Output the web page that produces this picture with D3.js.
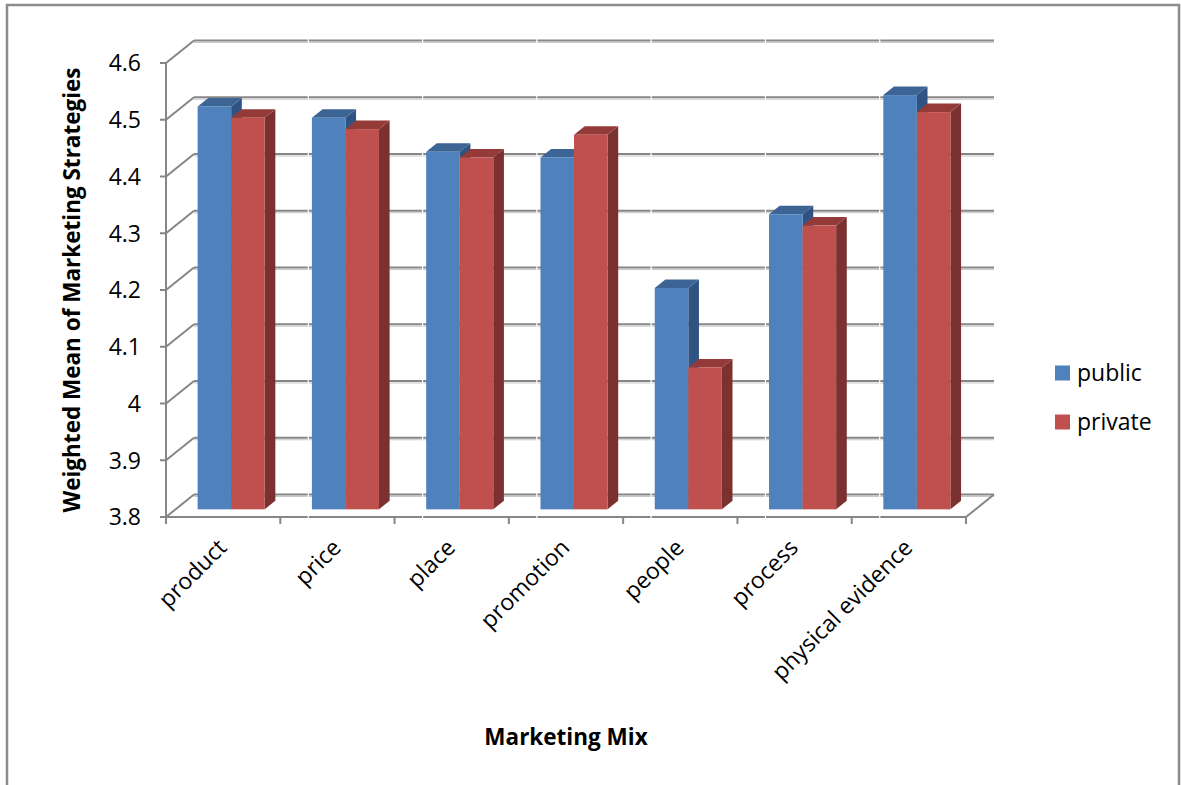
<!DOCTYPE html>
<html>
<head>
<meta charset="utf-8">
<script src="https://cdn.jsdelivr.net/npm/d3@7/dist/d3.min.js"></script>
<style>
  html, body { margin: 0; padding: 0; background: #fff; }
  svg { display: block; }
  text { font-family: "Open Sans", Lato, sans-serif; fill: #000; }
</style>
</head>
<body>
<script>
const categories = ["product", "price", "place", "promotion", "people", "process", "physical evidence"];
const seriesNames = ["public", "private"];
const publicValues = [4.51, 4.49, 4.43, 4.42, 4.19, 4.32, 4.53];
const privateValues = [4.49, 4.47, 4.42, 4.46, 4.05, 4.30, 4.50];
const yTicks = [3.8, 3.9, 4.0, 4.1, 4.2, 4.3, 4.4, 4.5, 4.6];
const yTickLabels = ["3.8", "3.9", "4", "4.1", "4.2", "4.3", "4.4", "4.5", "4.6"];

const W = 1181, H = 785;
const svg = d3.select("body").append("svg").attr("width", W).attr("height", H);

const colors = {
  public: { front: "#4F81BD", top: "#3C6494", side: "#2F5382" },
  private: { front: "#C0504D", top: "#943B39", side: "#7A312F" }
};

// border
svg.append("rect").attr("x", 7).attr("y", 5).attr("width", 1172).attr("height", 800)
  .attr("fill", "none").attr("stroke", "#8c8c8c").attr("stroke-width", 2.5);

const left = 166, right = 966;
const DX = 28, DY = -22.5; // full depth offset
const y = d3.scaleLinear().domain([3.8, 4.6]).range([517, 63]);
const x = d3.scaleBand().domain(categories).range([left, right]).paddingInner(0).paddingOuter(0);
const bw = x.bandwidth();
const clusterW = bw * 0.587;
const xs = d3.scaleBand().domain(seriesNames).range([0, clusterW]);
const f0 = 0.34, f1 = 0.72;

const grid = svg.append("g");
yTicks.forEach((t, i) => {
  const yf = y(t);
  const yb = yf + DY;
  grid.append("line").attr("x1", left + DX).attr("x2", right + DX).attr("y1", yb + 2).attr("y2", yb + 2)
    .attr("stroke", "#c8c8c8").attr("stroke-width", 1);
  grid.append("line").attr("x1", left + DX).attr("x2", right + DX).attr("y1", yb).attr("y2", yb)
    .attr("stroke", "#868686").attr("stroke-width", 2);
  grid.append("line").attr("x1", left).attr("x2", left + DX).attr("y1", yf).attr("y2", yb)
    .attr("stroke", "#868686").attr("stroke-width", 2);
  grid.append("line").attr("x1", left - 6).attr("x2", left).attr("y1", yf).attr("y2", yf)
    .attr("stroke", "#868686").attr("stroke-width", 2);
  svg.append("text").attr("x", 141).attr("y", yf).attr("dy", "0.36em")
    .attr("text-anchor", "end").attr("font-size", 23).text(yTickLabels[i]);
});
grid.append("line").attr("x1", left).attr("x2", left).attr("y1", y(4.6)).attr("y2", y(3.8))
  .attr("stroke", "#868686").attr("stroke-width", 2);
grid.append("line").attr("x1", left).attr("x2", right).attr("y1", y(3.8)).attr("y2", y(3.8))
  .attr("stroke", "#868686").attr("stroke-width", 2);
grid.append("line").attr("x1", right).attr("x2", right + DX).attr("y1", y(3.8)).attr("y2", y(3.8) + DY)
  .attr("stroke", "#868686").attr("stroke-width", 2);
const bounds = categories.map(c => x(c)).concat([right]);
bounds.forEach(b => {
  grid.append("line").attr("x1", b).attr("x2", b).attr("y1", y(3.8)).attr("y2", y(3.8) + 7)
    .attr("stroke", "#868686").attr("stroke-width", 2);
});
bounds.slice(1, -1).forEach(b => {
  grid.append("line").attr("x1", b + DX).attr("x2", b + DX).attr("y1", y(4.6) + DY - 2).attr("y2", y(3.8) + 1)
    .attr("stroke", "#ffffff").attr("stroke-width", 1.2);
});

// bars
const bars = svg.append("g");
const data = [publicValues, privateValues];
categories.forEach((c, ci) => {
  seriesNames.forEach((s, si) => {
    const v = data[si][ci];
    const col = colors[s];
    const x0 = x(c) + (bw - clusterW) / 2 - 1.5 + xs(s);
    const x1 = x0 + xs.bandwidth();
    const yt = y(v), yb = y(3.8);
    const p = (px, py, f) => [px + f * DX, py + f * DY];
    const poly = pts => pts.map(q => q.join(",")).join(" ");
    bars.append("polygon").attr("fill", col.side).attr("points", poly([
      p(x1, yt, f0), p(x1, yt, f1), p(x1, yb, f1), p(x1, yb, f0)]));
    bars.append("polygon").attr("fill", col.top).attr("points", poly([
      p(x0, yt, f0), p(x1, yt, f0), p(x1, yt, f1), p(x0, yt, f1)]));
    const [fx, fy] = p(x0, yt, f0);
    const [, fyb] = p(x0, yb, f0);
    bars.append("rect").attr("x", fx).attr("y", fy).attr("width", x1 - x0).attr("height", fyb - fy)
      .attr("fill", col.front);
  });
});

// x labels
categories.forEach(c => {
  const cx = x(c) + bw / 2 + 5;
  svg.append("text").attr("transform", `translate(${cx},${549}) rotate(-45)`)
    .attr("text-anchor", "end").attr("font-size", 23).text(c);
});

// axis titles
svg.append("text").attr("transform", "translate(80,290) rotate(-90)")
  .attr("text-anchor", "middle").attr("font-size", 22.5).attr("font-weight", "bold")
  .text("Weighted Mean of Marketing Strategies");
svg.append("text").attr("x", 566).attr("y", 745).attr("text-anchor", "middle")
  .attr("font-size", 22.5).attr("font-weight", "bold").text("Marketing Mix");

// legend
const lg = svg.append("g");
seriesNames.forEach((s, i) => {
  const ly = 373 + i * 49;
  lg.append("rect").attr("x", 1055).attr("y", ly - 7.5).attr("width", 15).attr("height", 15)
    .attr("fill", colors[s].front);
  lg.append("text").attr("x", 1077).attr("y", ly).attr("dy", "0.36em").attr("font-size", 23).text(s);
});
</script>
</body>
</html>
